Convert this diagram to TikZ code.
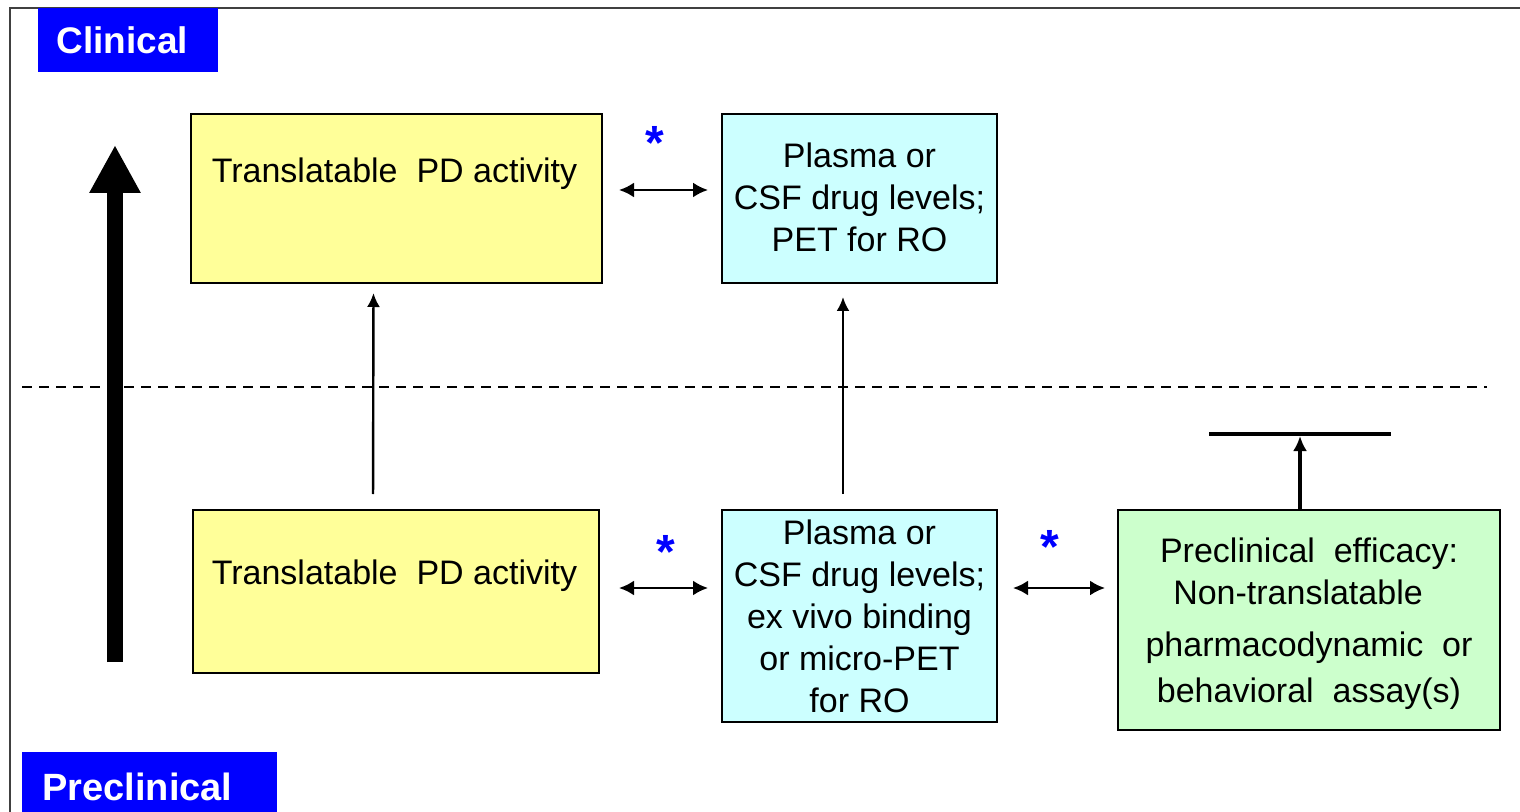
\documentclass[tikz,border=0pt]{standalone}
\usepackage{fontspec}
\setmainfont{Liberation Sans}
\usetikzlibrary{arrows.meta}
\definecolor{boxyellow}{HTML}{FFFF99}
\definecolor{boxcyan}{HTML}{CCFFFF}
\definecolor{boxgreen}{HTML}{CCFFCC}
\definecolor{labblue}{HTML}{0000FF}
\definecolor{framegray}{HTML}{404040}
\begin{document}
\begin{tikzpicture}[x=0.5pt,y=-0.5pt,
  box/.style={draw=black, line width=0.9pt, inner sep=0pt, outer sep=0pt},
  bodytext/.style={font=\fontsize{17pt}{21pt}\selectfont, text=black, inner sep=0pt, align=center},
  labelbox/.style={fill=labblue, draw=none, inner sep=0pt, outer sep=0pt},
  labeltext/.style={font=\fontsize{18.5pt}{22pt}\selectfont\bfseries, text=white, inner sep=0pt},
  startext/.style={font=\fontsize{24pt}{24pt}\selectfont\bfseries, text=labblue, inner sep=0pt},
  dbl/.style={line width=1.2pt, {Latex[length=7.5pt,width=7.5pt]}-{Latex[length=7.5pt,width=7.5pt]}},
  uparrow/.style={line width=1.2pt, -{Latex[length=7pt,width=6.5pt]}},
  bigarrow/.style={line width=8pt, -{Triangle[length=24pt,width=24pt]}},
  thickarrow/.style={line width=2pt, -{Latex[length=7.5pt,width=7pt]}},
  sepline/.style={line width=0.75pt, dash pattern=on 5pt off 3.5pt}
]
\useasboundingbox (0,0) rectangle (1520,812);
\clip (0,0) rectangle (1520,812);
% outer frame
\draw[framegray, line width=1pt] (10,8) rectangle (1560,850);

% labels
\node[labelbox, minimum width=90pt, minimum height=32pt] (clinbox) at (128,40) {};
\node[labeltext, anchor=base west] (clintext) at (56,54) {Clinical};
\node[labelbox, minimum width=127.5pt, minimum height=40pt] (preclinbox) at (149.5,792) {};
\node[labeltext, font=\fontsize{19pt}{22pt}\selectfont\bfseries, anchor=base west] (preclintext) at (42,800) {Preclinical};

% dashed separator
\coordinate (dl0) at (22,387);
\coordinate (dl1) at (1487,387);
\draw[sepline] (dl0) -- (dl1);

% big arrow
\coordinate (ba0) at (115,662);
\coordinate (ba1) at (115,145);
\draw[bigarrow] (ba0) -- (ba1);

% boxes
\node[box, fill=boxyellow, minimum width=205.5pt, minimum height=84.5pt] (y1) at (396.5,198.5) {};
\node[bodytext, anchor=base] (y1t) at (394.5,183) {Translatable\ \ PD activity};
\node[box, fill=boxcyan, minimum width=137.5pt, minimum height=84.5pt] (c1) at (859.5,198.5) {};
\node[bodytext] (c1t) at (859.5,197) {Plasma or\\CSF drug levels;\\PET for RO};

\node[box, fill=boxyellow, minimum width=203pt, minimum height=81.5pt] (y2) at (396,591.5) {};
\node[bodytext, anchor=base] (y2t) at (394.5,584) {Translatable\ \ PD activity};
\node[box, fill=boxcyan, minimum width=137.5pt, minimum height=106pt, bodytext] (c2) at (859.5,616) {Plasma or\\CSF drug levels;\\ex vivo binding\\or micro-PET\\for RO};
\node[box, fill=boxgreen, minimum width=191pt, minimum height=110pt] (g) at (1309,620) {};
\node[bodytext] (gt) at (1309,624) {Preclinical\ \ efficacy:\\\mbox{Non-translatable\hspace{11pt}}\\[5pt]pharmacodynamic\ \ or\\[2pt]behavioral\ \ assay(s)};

% stars
\node[startext, anchor=base] (s1) at (655,160) {*};
\node[startext, anchor=base] (s2) at (666,568) {*};
\node[startext, anchor=base] (s3) at (1050,563) {*};

% horizontal double arrows
\draw[dbl, shorten <=8.5pt, shorten >=7pt] ([yshift=4.25pt]y1.east) -- ([yshift=4.25pt]c1.west);
\draw[dbl, shorten <=10pt, shorten >=7pt] ([yshift=1.75pt]y2.east) -- ([yshift=14pt]c2.west);
\draw[dbl, shorten <=8pt, shorten >=6.5pt] ([yshift=14pt]c2.east) -- ([yshift=16pt]g.west);

% vertical arrows
\draw[uparrow, shorten <=8pt, shorten >=5pt] ([xshift=-11.5pt]y2.north) -- ([xshift=-11.5pt]y1.south);
\draw[uparrow, shorten <=8pt, shorten >=7pt] ([xshift=-8.25pt]c2.north) -- ([xshift=-8.25pt]c1.south);

% green blocked arrow
\coordinate (bar) at (1300,434);
\coordinate (barl) at (1209,434);
\coordinate (barr) at (1391,434);
\draw[line width=2pt] (barl) -- (barr);
\draw[thickarrow, shorten >=1pt] ([xshift=-4.5pt]g.north) -- (bar);
\end{tikzpicture}
\end{document}
